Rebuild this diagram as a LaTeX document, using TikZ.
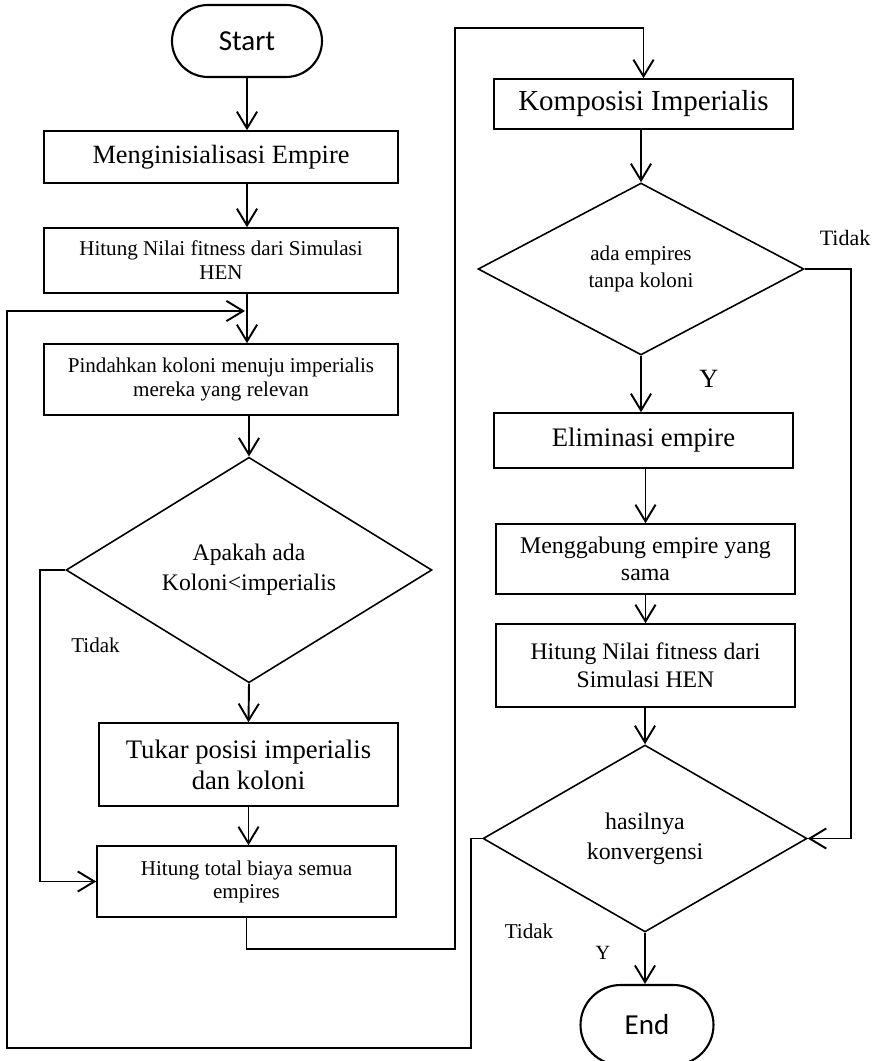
\documentclass[tikz,border=0pt]{standalone}
\usepackage{fontspec}
\setmainfont{Liberation Serif}
\newfontfamily\carlito{Carlito}
\usetikzlibrary{arrows.meta,shapes.geometric}

\begin{document}
\begin{tikzpicture}[x=0.02cm,y=-0.02cm,
  proses/.style={draw,line width=0.9pt,align=center,inner sep=0pt,minimum width=5.98cm},
  keputusan/.style={draw,diamond,line width=0.9pt,align=center,inner sep=0pt},
  terminal/.style={draw,line width=1.2pt,inner sep=0pt,font=\carlito\fontsize{16.5}{19}\selectfont},
  panah/.style={line width=1.1pt,-{Straight Barb[length=9.5pt,width=11.5pt]}},
  ket/.style={inner sep=0pt,anchor=base,font=\fontsize{12}{14}\selectfont}]
\useasboundingbox (0,0) rectangle (883,1061);
% kolom kiri
\node[terminal,minimum width=3cm,minimum height=1.44cm,rounded corners=0.72cm] (mulai) at (247,41) {Start};
\node[proses,minimum width=7.08cm,minimum height=1.04cm,font=\fontsize{15}{17}\selectfont] (inisial) at (221,157) {Menginisialisasi Empire};
\node[proses,minimum width=7.08cm,minimum height=1.3cm,font=\fontsize{12}{13.7}\selectfont] (fitness1) at (221,260.5) {Hitung Nilai fitness dari Simulasi\\HEN};
\node[proses,minimum width=7.08cm,minimum height=1.42cm,font=\fontsize{12}{14}\selectfont] (pindah) at (221,379.5) {Pindahkan koloni menuju imperialis\\mereka yang relevan};
\node[keputusan,minimum width=7.32cm,minimum height=4cm,font=\fontsize{13.5}{17}\selectfont] (cekkoloni) at (249,570) {Apakah ada\\Koloni<imperialis};
\node[proses,minimum height=1.66cm,font=\fontsize{15.2}{17.6}\selectfont] (tukar) at (248.5,764.5) {Tukar posisi imperialis\\dan koloni};
\node[proses,minimum height=1.42cm,font=\fontsize{12}{13}\selectfont] (biaya) at (246.5,881.5) {Hitung total biaya semua\\empires};
% kolom kanan
\node[proses,minimum height=1cm,font=\fontsize{16.5}{19}\selectfont] (komposisi) at (643.5,104) {Komposisi Imperialis};
\node[keputusan,minimum width=6.52cm,minimum height=3.44cm,font=\fontsize{12}{15.4}\selectfont] (cekempire) at (641,269) {ada empires\\tanpa koloni};
\node[proses,minimum height=1.1cm,font=\fontsize{15.2}{17}\selectfont] (eliminasi) at (643.5,440.5) {Eliminasi empire};
\node[proses,minimum height=1.4cm,font=\fontsize{13.6}{15.2}\selectfont] (gabung) at (645.5,559) {Menggabung empire yang\\sama};
\node[proses,minimum height=1.66cm,font=\fontsize{13.5}{16}\selectfont] (fitness2) at (645.5,665.5) {Hitung Nilai fitness dari\\Simulasi HEN};
\node[keputusan,minimum width=6.48cm,minimum height=3.74cm,font=\fontsize{13.6}{17}\selectfont] (cekhasil) at (645,838.5) {hasilnya\\konvergensi};
\node[terminal,minimum width=2.66cm,minimum height=1.6cm,rounded corners=0.8cm] (selesai) at (647,1025) {End};
% keterangan
\node[ket] (tidak1) at (95.5,652) {Tidak};
\node[ket,font=\fontsize{12.5}{14}\selectfont] (tidak2) at (845,245) {Tidak};
\node[ket,font=\fontsize{15}{17}\selectfont] (ya1) at (709,387) {Y};
\node[ket] (tidak3) at (529,938) {Tidak};
\node[ket,font=\fontsize{11.5}{13}\selectfont] (ya2) at (603,959) {Y};
\coordinate (atas) at (455,28);
\coordinate (sudut) at (7,1048);
\coordinate (masuk) at (245,311);
% panah kolom kiri
\draw[panah] (mulai) -- (mulai |- inisial.north);
\draw[panah] (mulai |- inisial.south) -- (mulai |- fitness1.north);
\draw[panah] (mulai |- fitness1.south) -- (mulai |- pindah.north);
\draw[panah] (cekkoloni.north |- pindah.south) -- (cekkoloni.north);
\draw[panah] (cekkoloni.south) -- (tukar.north);
\draw[panah] (tukar.south) -- (tukar.south |- biaya.north);
\draw[panah] (cekkoloni.west) -- ++(-25,0) |- (biaya.west);
\draw[panah] (biaya.south) -- ++(0,31) -| (atas) -| (komposisi.north);
% panah kolom kanan
\draw[panah] (cekempire.north |- komposisi.south) -- (cekempire.north);
\draw[panah] (cekempire.east) -- ++(46,0) |- (cekhasil.east);
\draw[panah] (cekempire.south) -- (cekempire.south |- eliminasi.north);
\draw[panah] (gabung.north |- eliminasi.south) -- (gabung.north);
\draw[panah] (gabung.south) -- (fitness2.north);
\draw[panah] (cekhasil.north |- fitness2.south) -- (cekhasil.north);
\draw[panah] (cekhasil.south) -- (cekhasil.south |- selesai.north);
\draw[panah] (cekhasil.west) -- ++(-11,0) |- (sudut) |- (masuk);
\end{tikzpicture}
\end{document}
